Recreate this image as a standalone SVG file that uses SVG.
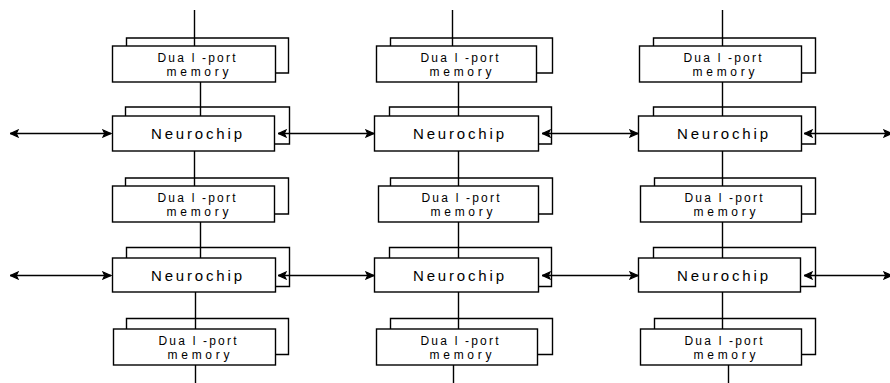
<svg xmlns="http://www.w3.org/2000/svg" width="890" height="383" viewBox="0 0 890 383">
  <style>
    .frame { fill: #ffffff; stroke: #000000; stroke-width: 1.4; }
    .shadow { fill: none; stroke: #000000; stroke-width: 1.4; }
    .wire { fill: none; stroke: #000000; stroke-width: 1.4; }
    .lbl { font-family: "Liberation Sans", Arial, sans-serif; fill: #000000; text-anchor: middle; }
    .mem { font-size: 12px; }
    .chip { font-size: 15px; }
  </style>
  <defs>
    <marker id="head" viewBox="0 0 10 10" refX="10" refY="5" markerWidth="10" markerHeight="9" markerUnits="userSpaceOnUse" orient="auto-start-reverse">
      <path d="M10,5 L1,1 L3,5 L1,9 Z" fill="#000000" stroke="#000000" stroke-width="1.2"/>
    </marker>
  </defs>

  <rect width="890" height="383" fill="#ffffff"/>

  <!-- connectors: vertical buses and horizontal links -->
  <g id="connectors">
    <!-- column 1 -->
    <path class="wire" d="M194.5,10 V46 M200.5,82 V116 M194.5,151 V186 M200.5,222 V258 M195.5,292 V329 M195.5,365 V383"/>
    <!-- column 2 -->
    <path class="wire" d="M452.5,10 V46 M458.5,82 V116 M458.5,151 V186 M458.5,222 V258 M458.5,292 V329 M453.5,365 V383"/>
    <!-- column 3 -->
    <path class="wire" d="M722.5,10 V46 M722.5,82 V116 M722.5,151 V186 M722.5,222 V258 M722.5,292 V329 M728.5,365 V383"/>
    <!-- row 1 links -->
    <line class="wire" x1="10" y1="133.5" x2="111" y2="133.5" marker-start="url(#head)" marker-end="url(#head)"/>
    <line class="wire" x1="278" y1="133.5" x2="374" y2="133.5" marker-start="url(#head)" marker-end="url(#head)"/>
    <line class="wire" x1="542" y1="133.5" x2="638" y2="133.5" marker-start="url(#head)" marker-end="url(#head)"/>
    <line class="wire" x1="804" y1="133.5" x2="892" y2="133.5" marker-start="url(#head)" marker-end="url(#head)"/>
    <!-- row 2 links -->
    <line class="wire" x1="10" y1="275.5" x2="111" y2="275.5" marker-start="url(#head)" marker-end="url(#head)"/>
    <line class="wire" x1="278" y1="275.5" x2="374" y2="275.5" marker-start="url(#head)" marker-end="url(#head)"/>
    <line class="wire" x1="542" y1="275.5" x2="638" y2="275.5" marker-start="url(#head)" marker-end="url(#head)"/>
    <line class="wire" x1="804" y1="275.5" x2="892" y2="275.5" marker-start="url(#head)" marker-end="url(#head)"/>
  </g>

  <!-- column 1 -->
  <g id="mem-1-1" transform="translate(112.5,46)">
    <path class="shadow" d="M14,0 V-8 H176 V27 H163"/>
    <rect class="frame" x="0" y="0" width="163" height="36"/>
    <text class="lbl mem" x="84" y="16" textLength="78" lengthAdjust="spacing">Dua l -port</text>
    <text class="lbl mem" x="85" y="30" textLength="62" lengthAdjust="spacing">memory</text>
  </g>
  <g id="chip-1-1" transform="translate(112.5,116)">
    <path class="shadow" d="M13,0 V-9 H177 V28 H162"/>
    <rect class="frame" x="0" y="0" width="162" height="35"/>
    <text class="lbl chip" x="84" y="22.5" textLength="91" lengthAdjust="spacing">Neurochip</text>
  </g>
  <g id="mem-1-2" transform="translate(112.5,186)">
    <path class="shadow" d="M13,0 V-8 H176 V28 H162"/>
    <rect class="frame" x="0" y="0" width="162" height="36"/>
    <text class="lbl mem" x="84" y="16" textLength="78" lengthAdjust="spacing">Dua l -port</text>
    <text class="lbl mem" x="85" y="30" textLength="62" lengthAdjust="spacing">memory</text>
  </g>
  <g id="chip-1-2" transform="translate(112.5,258)">
    <path class="shadow" d="M14,0 V-10.5 H177 V28.5 H163"/>
    <rect class="frame" x="0" y="0" width="163" height="34"/>
    <text class="lbl chip" x="84" y="22.5" textLength="91" lengthAdjust="spacing">Neurochip</text>
  </g>
  <g id="mem-1-3" transform="translate(113.5,329)">
    <path class="shadow" d="M13,0 V-10.5 H175 V25.5 H162"/>
    <rect class="frame" x="0" y="0" width="162" height="36"/>
    <text class="lbl mem" x="84" y="16" textLength="78" lengthAdjust="spacing">Dua l -port</text>
    <text class="lbl mem" x="85" y="30" textLength="62" lengthAdjust="spacing">memory</text>
  </g>

  <!-- column 2 -->
  <g id="mem-2-1" transform="translate(376.5,46)">
    <path class="shadow" d="M14,0 V-8 H176 V27 H160"/>
    <rect class="frame" x="0" y="0" width="160" height="36"/>
    <text class="lbl mem" x="83" y="16" textLength="78" lengthAdjust="spacing">Dua l -port</text>
    <text class="lbl mem" x="84" y="30" textLength="62" lengthAdjust="spacing">memory</text>
  </g>
  <g id="chip-2-1" transform="translate(374.5,116)">
    <path class="shadow" d="M15,0 V-9 H177 V28 H164"/>
    <rect class="frame" x="0" y="0" width="164" height="35"/>
    <text class="lbl chip" x="84" y="22.5" textLength="91" lengthAdjust="spacing">Neurochip</text>
  </g>
  <g id="mem-2-2" transform="translate(378.5,186)">
    <path class="shadow" d="M12,0 V-8 H174 V28 H160"/>
    <rect class="frame" x="0" y="0" width="160" height="36"/>
    <text class="lbl mem" x="82" y="16" textLength="78" lengthAdjust="spacing">Dua l -port</text>
    <text class="lbl mem" x="83" y="30" textLength="62" lengthAdjust="spacing">memory</text>
  </g>
  <g id="chip-2-2" transform="translate(374.5,258)">
    <path class="shadow" d="M15,0 V-10.5 H177 V28.5 H164"/>
    <rect class="frame" x="0" y="0" width="164" height="34"/>
    <text class="lbl chip" x="84" y="22.5" textLength="91" lengthAdjust="spacing">Neurochip</text>
  </g>
  <g id="mem-2-3" transform="translate(376.5,329)">
    <path class="shadow" d="M14,0 V-10.5 H176 V25.5 H161"/>
    <rect class="frame" x="0" y="0" width="161" height="36"/>
    <text class="lbl mem" x="83" y="16" textLength="78" lengthAdjust="spacing">Dua l -port</text>
    <text class="lbl mem" x="84" y="30" textLength="62" lengthAdjust="spacing">memory</text>
  </g>

  <!-- column 3 -->
  <g id="mem-3-1" transform="translate(639.5,46)">
    <path class="shadow" d="M14,0 V-8 H176 V27 H162"/>
    <rect class="frame" x="0" y="0" width="162" height="36"/>
    <text class="lbl mem" x="83" y="16" textLength="78" lengthAdjust="spacing">Dua l -port</text>
    <text class="lbl mem" x="84" y="30" textLength="62" lengthAdjust="spacing">memory</text>
  </g>
  <g id="chip-3-1" transform="translate(638.5,116)">
    <path class="shadow" d="M15,0 V-9 H177 V28 H163"/>
    <rect class="frame" x="0" y="0" width="163" height="35"/>
    <text class="lbl chip" x="84" y="22.5" textLength="91" lengthAdjust="spacing">Neurochip</text>
  </g>
  <g id="mem-3-2" transform="translate(640.5,186)">
    <path class="shadow" d="M14,0 V-8 H175 V28 H161"/>
    <rect class="frame" x="0" y="0" width="161" height="36"/>
    <text class="lbl mem" x="83" y="16" textLength="78" lengthAdjust="spacing">Dua l -port</text>
    <text class="lbl mem" x="84" y="30" textLength="62" lengthAdjust="spacing">memory</text>
  </g>
  <g id="chip-3-2" transform="translate(638.5,258)">
    <path class="shadow" d="M15,0 V-10.5 H177 V28.5 H162"/>
    <rect class="frame" x="0" y="0" width="162" height="34"/>
    <text class="lbl chip" x="84" y="22.5" textLength="91" lengthAdjust="spacing">Neurochip</text>
  </g>
  <g id="mem-3-3" transform="translate(640.5,329)">
    <path class="shadow" d="M14,0 V-10.5 H175 V25.5 H161"/>
    <rect class="frame" x="0" y="0" width="161" height="36"/>
    <text class="lbl mem" x="83" y="16" textLength="78" lengthAdjust="spacing">Dua l -port</text>
    <text class="lbl mem" x="84" y="30" textLength="62" lengthAdjust="spacing">memory</text>
  </g>
</svg>
